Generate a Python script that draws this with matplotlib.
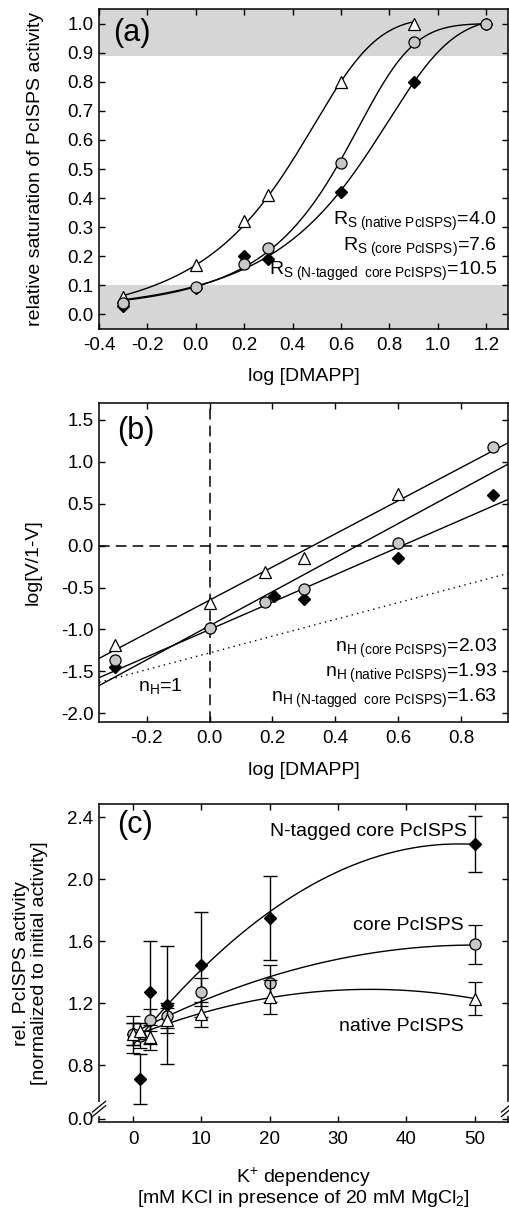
import numpy as np
import matplotlib
matplotlib.use("Agg")
import matplotlib.pyplot as plt

plt.rcParams['font.family'] = ['Liberation Sans', 'DejaVu Sans']
plt.rcParams['mathtext.fontset'] = 'custom'
plt.rcParams['mathtext.rm'] = 'Liberation Sans'
plt.rcParams['mathtext.it'] = 'Liberation Sans:italic'
plt.rcParams['mathtext.bf'] = 'Liberation Sans:bold'

# (a) saturation data
a_x_native = [-0.3, 0.0, 0.2, 0.3, 0.6, 0.9]
a_y_native = [0.06, 0.17, 0.32, 0.41, 0.80, 1.00]
a_x_core = [-0.3, 0.0, 0.2, 0.3, 0.6, 0.9, 1.2]
a_y_core = [0.04, 0.095, 0.175, 0.23, 0.52, 0.935, 1.00]
a_x_ntag = [-0.3, 0.0, 0.2, 0.3, 0.6, 0.9, 1.2]
a_y_ntag = [0.03, 0.09, 0.20, 0.19, 0.42, 0.80, 1.00]

# (b) Hill plot data
b_x_native = [-0.3, 0.0, 0.176, 0.3, 0.6]
b_y_native = [-1.18, -0.69, -0.32, -0.15, 0.62]
b_x_core = [-0.3, 0.0, 0.176, 0.3, 0.6, 0.9]
b_y_core = [-1.36, -0.98, -0.67, -0.52, 0.03, 1.17]
b_x_ntag = [-0.3, 0.0, 0.204, 0.3, 0.6, 0.9]
b_y_ntag = [-1.45, -0.98, -0.60, -0.64, -0.15, 0.60]
nh1_intercept = -1.28

# (c) K+ dependency
c_x = [0, 1, 2.5, 5, 10, 20, 50]
c_native = [1.00, 1.02, 0.98, 1.09, 1.13, 1.24, 1.23]
c_native_err = [0.07, 0.05, 0.08, 0.08, 0.08, 0.11, 0.105]
c_core = [1.00, 0.99, 1.09, 1.12, 1.27, 1.33, 1.58]
c_core_err = [0.12, 0.08, 0.07, 0.08, 0.09, 0.12, 0.125]
c_ntag = [1.00, 0.71, 1.27, 1.19, 1.45, 1.75, 2.23]
c_ntag_err = [0.07, 0.16, 0.33, 0.38, 0.34, 0.27, 0.18]

circle_gray = '#c8c8c8'
band_gray = '#d6d6d6'


def sigmoid(logx, B, V, X0, w):
    # logistic in the linear concentration
    return B + (V - B) / (1 + np.exp(-(10 ** logx - X0) / w))


def sigmoid_fit(x, y):
    # brute force least squares over a parameter grid
    x = np.array(x, dtype=np.float32)
    y = np.array(y, dtype=np.float32)
    B = np.linspace(-0.3, 0.05, 15, dtype=np.float32)[:, None, None, None, None]
    V = np.linspace(0.98, 1.06, 9, dtype=np.float32)[None, :, None, None, None]
    X0 = np.linspace(0.5, 8.0, 76, dtype=np.float32)[None, None, :, None, None]
    w = np.linspace(0.3, 4.0, 75, dtype=np.float32)[None, None, None, :, None]
    err = ((sigmoid(x, B, V, X0, w) - y) ** 2).sum(axis=4)
    i, j, k, m = np.unravel_index(np.argmin(err), err.shape)
    return B.ravel()[i], V.ravel()[j], X0.ravel()[k], w.ravel()[m]


def style_axes(ax):
    ax.tick_params(direction='in', top=True, right=True, length=4.5, width=1,
                   labelsize=13.5)
    ax.tick_params(axis='x', pad=6)
    ax.tick_params(axis='y', pad=4)
    for s in ax.spines.values():
        s.set_linewidth(1.1)


fig = plt.figure(figsize=(5.09, 12.12), dpi=100)
W, H = 509, 1212
ax_a = fig.add_axes([99 / W, 1 - 329 / H, 409 / W, 320 / H])
ax_b = fig.add_axes([99 / W, 1 - 721.7 / H, 409 / W, 318.7 / H])
ax_c = fig.add_axes([99 / W, 1 - 1122.3 / H, 409 / W, 318 / H])

# ---------- (a)
ax = ax_a
ax.axhspan(0.89, 1.1, color=band_gray, lw=0, zorder=0)
ax.axhspan(-0.1, 0.1, color=band_gray, lw=0, zorder=0)
for xs, ys, xend in [(a_x_native, a_y_native, 0.9), (a_x_core, a_y_core, 1.2),
                     (a_x_ntag, a_y_ntag, 1.2)]:
    pars = sigmoid_fit(xs, ys)
    xx = np.linspace(-0.3, xend, 300)
    ax.plot(xx, sigmoid(xx, *pars), color='black', lw=1.0, zorder=2)
ax.plot(a_x_ntag, a_y_ntag, 'D', ms=6, mfc='black', mec='black', zorder=3)
ax.plot(a_x_native, a_y_native, '^', ms=8.5, mfc='white', mec='black', mew=0.9, zorder=4)
ax.plot(a_x_core, a_y_core, 'o', ms=8, mfc=circle_gray, mec='black', mew=0.9, zorder=5)
ax.set_xlim(-0.4, 1.29)
ax.set_ylim(-0.05, 1.05)
ax.set_xticks(np.arange(-0.4, 1.21, 0.2))
ax.set_xticklabels(['%.1f' % v for v in np.arange(-0.4, 1.21, 0.2)])
ax.set_yticks(np.arange(0, 1.01, 0.1))
ax.set_yticklabels(['%.1f' % v for v in np.arange(0, 1.01, 0.1)])
ax.set_xlabel('log [DMAPP]', fontsize=14)
ax.set_ylabel('relative saturation of PcISPS activity', fontsize=14)
ax.xaxis.set_label_coords(0.5, -0.122)
ax.yaxis.set_label_coords(-0.135, 0.5)
ax.text(0.035, 0.925, '(a)', transform=ax.transAxes, fontsize=22, va='center')
ax.text(0.973, 0.307, r'R$_{\text{S (native PcISPS)}}$=4.0', transform=ax.get_yaxis_transform(),
        ha='right', va='baseline', fontsize=14)
ax.text(0.973, 0.219, r'R$_{\text{S (core PcISPS)}}$=7.6', transform=ax.get_yaxis_transform(),
        ha='right', va='baseline', fontsize=14)
ax.text(0.973, 0.135, r'R$_{\text{S (N-tagged  core PcISPS)}}$=10.5', transform=ax.get_yaxis_transform(),
        ha='right', va='baseline', fontsize=14)
style_axes(ax)

# ---------- (b)
ax = ax_b
xl = np.array([-0.35, 0.95])
ax.axhline(0, color='black', lw=1.1, ls=(0, (7, 4)), zorder=1)
ax.axvline(0, color='black', lw=1.1, ls=(0, (7, 4)), zorder=1)
ax.plot(xl, xl + nh1_intercept, color='black', lw=1.0, ls=(0, (1, 3)), zorder=1)
for xs, ys in [(b_x_native, b_y_native), (b_x_core, b_y_core), (b_x_ntag, b_y_ntag)]:
    k, d = np.polyfit(xs, ys, 1)
    ax.plot(xl, k * xl + d, color='black', lw=1.0, zorder=2)
ax.plot(b_x_ntag, b_y_ntag, 'D', ms=6, mfc='black', mec='black', zorder=3)
ax.plot(b_x_native, b_y_native, '^', ms=8.5, mfc='white', mec='black', mew=0.9, zorder=4)
ax.plot(b_x_core, b_y_core, 'o', ms=8, mfc=circle_gray, mec='black', mew=0.9, zorder=5)
ax.set_xlim(-0.351, 0.948)
ax.set_ylim(-2.1, 1.7)
ax.set_xticks(np.arange(-0.2, 0.81, 0.2))
ax.set_xticklabels(['%.1f' % v for v in np.arange(-0.2, 0.81, 0.2)])
ax.set_yticks(np.arange(-2.0, 1.51, 0.5))
ax.set_yticklabels(['%.1f' % v for v in np.arange(-2.0, 1.51, 0.5)])
ax.set_xlabel('log [DMAPP]', fontsize=14)
ax.set_ylabel('log[V/1-V]', fontsize=14)
ax.xaxis.set_label_coords(0.5, -0.125)
ax.yaxis.set_label_coords(-0.14, 0.5)
ax.text(0.045, 0.912, '(b)', transform=ax.transAxes, fontsize=22, va='center')
ax.text(-0.156, -1.68, r'n$_{\text{H}}$=1', fontsize=14, ha='center', va='center')
ax.text(0.973, -1.265, r'n$_{\text{H (core PcISPS)}}$=2.03', transform=ax.get_yaxis_transform(),
        ha='right', va='baseline', fontsize=14)
ax.text(0.973, -1.563, r'n$_{\text{H (native PcISPS)}}$=1.93', transform=ax.get_yaxis_transform(),
        ha='right', va='baseline', fontsize=14)
ax.text(0.973, -1.865, r'n$_{\text{H (N-tagged  core PcISPS)}}$=1.63', transform=ax.get_yaxis_transform(),
        ha='right', va='baseline', fontsize=14)
style_axes(ax)

# ---------- (c)
ax = ax_c
xx = np.linspace(0, 50, 200)
for ys in [c_native, c_core, c_ntag]:
    p = np.polyfit(c_x, ys, 2)
    ax.plot(xx, np.polyval(p, xx), color='black', lw=1.0, zorder=2)
ax.errorbar(c_x, c_ntag, yerr=c_ntag_err, fmt='D', ms=6, mfc='black', mec='black',
            ecolor='black', elinewidth=1.0, capsize=5, capthick=1.0, zorder=3)
ax.errorbar(c_x, c_core, yerr=c_core_err, fmt='o', ms=8, mfc=circle_gray, mec='black', mew=0.9,
            ecolor='black', elinewidth=1.0, capsize=5, capthick=1.0, zorder=4)
ax.errorbar(c_x, c_native, yerr=c_native_err, fmt='^', ms=8.5, mfc='white', mec='black', mew=0.9,
            ecolor='black', elinewidth=1.0, capsize=5, capthick=1.0, zorder=5)
ax.set_xlim(-5, 54.9)
y_zero_pos = 0.454
ax.set_ylim(0.432, 2.484)
ax.set_xticks([0, 10, 20, 30, 40, 50])
ax.set_yticks([y_zero_pos, 0.8, 1.2, 1.6, 2.0, 2.4])
ax.set_yticklabels(['0.0', '0.8', '1.2', '1.6', '2.0', '2.4'])
ax.set_xlabel('K$^{+}$ dependency\n[mM KCl in presence of 20 mM MgCl$_{2}$]', fontsize=14,
              linespacing=0.95)
ax.set_ylabel('rel. PcISPS activity\n[normalized to initial activity]', fontsize=14,
              linespacing=1.1)
ax.xaxis.set_label_coords(0.5, -0.135)
ax.yaxis.set_label_coords(-0.125, 0.5)
ax.text(0.045, 0.935, '(c)', transform=ax.transAxes, fontsize=22, va='center')
tr = ax.get_yaxis_transform()
ax.text(0.90, 2.307, 'N-tagged core PcISPS', transform=tr, fontsize=14, ha='right', va='center')
ax.text(0.892, 1.705, 'core PcISPS', transform=tr, fontsize=14, ha='right', va='center')
ax.text(0.892, 1.053, 'native PcISPS', transform=tr, fontsize=14, ha='right', va='center')
style_axes(ax)
# axis break marks
for xa in [0.0, 1.0]:
    ax.plot([xa, xa], [0.025, 0.058], transform=ax.transAxes, color='white', lw=3,
            clip_on=False, zorder=10)
    for dy in [0.0, 0.014]:
        ax.plot([xa - 0.016, xa + 0.016], [0.018 + dy, 0.052 + dy], transform=ax.transAxes,
                color='black', lw=0.9, clip_on=False, zorder=11)

fig.savefig('out.png', dpi=100)
